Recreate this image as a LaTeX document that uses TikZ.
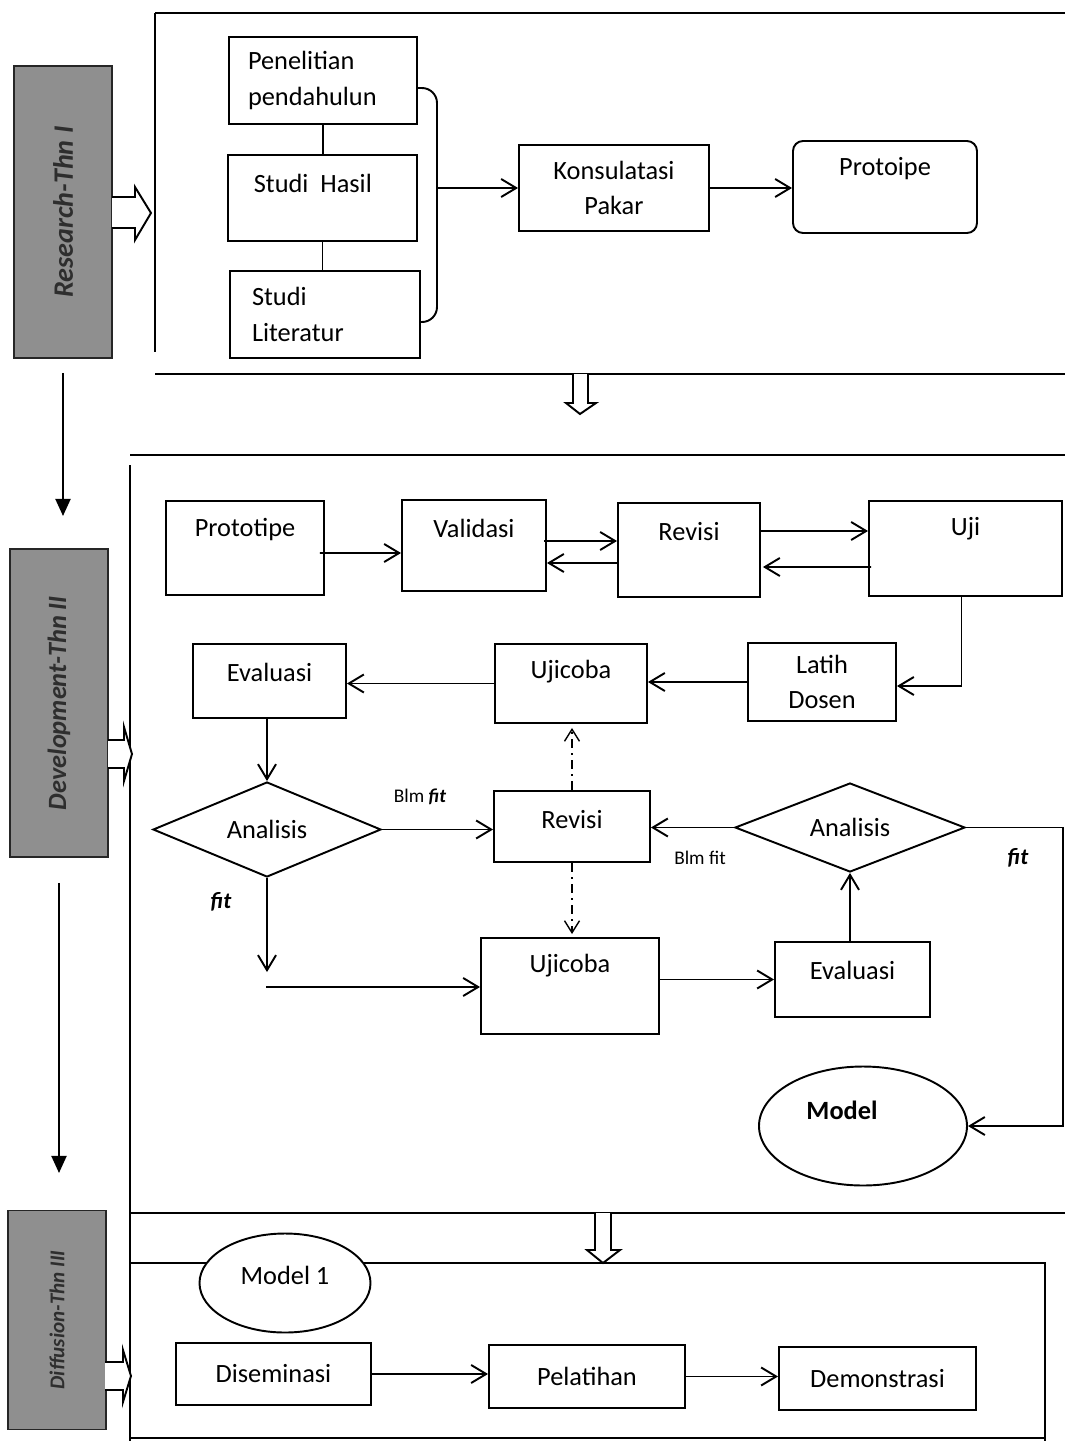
\documentclass[tikz,border=0pt]{standalone}
\usepackage{fontspec}
\setmainfont{Carlito}
\usetikzlibrary{arrows.meta,calc,shapes.geometric}
\definecolor{bandgray}{HTML}{8F8F8F}
\definecolor{bandtext}{HTML}{2E2E2E}
\newcommand\fs{\fontsize{15}{20}\selectfont}

\begin{document}
\begin{tikzpicture}[x=0.02cm,y=-0.02cm,line width=1.1pt,
  every node/.style={font=\fs},
  bx/.style 2 args={draw,rectangle,minimum width=#1*0.02cm,minimum height=#2*0.02cm,inner sep=0pt},
  ttl/.style={label={[anchor=center,yshift=-0.58cm]north:#1}},
  dia/.style 2 args={draw,diamond,aspect=2.4,minimum width=#1*0.02cm,minimum height=#2*0.02cm,inner sep=0pt},
  band/.style 2 args={draw=black!85,fill=bandgray,text=bandtext,rotate=90,minimum width=#1*0.02cm,minimum height=#2*0.02cm,inner sep=0pt},
  arr/.style={-{Straight Barb[length=3mm,width=3.6mm]}},
  darr/.style={-{Straight Barb[length=2.4mm,width=3mm]},line width=0.8pt,dash pattern=on 5pt off 3pt on 1pt off 3pt},
  larr/.style={-{Triangle[length=3.4mm,width=3mm]}},
  small/.style={font=\fontsize{11}{13}\selectfont},
  fitlbl/.style={font=\fontsize{13}{15}\selectfont\bfseries\itshape}]
  \useasboundingbox (0,0) rectangle (1065,1441);

  % panels
  \draw (155,13) -- (1065,13);
  \draw (155,13) -- (155,352);
  \draw (155,374) -- (1065,374);
  \draw (130,455) -- (1065,455);
  \draw (130,465) -- (130,1441);
  \draw (130,1213) -- (1065,1213);
  \draw (130,1263) -- (1045,1263) -- (1045,1441);
  \draw (130,1438) -- (1045,1438);

  % year bands
  \node[band={292}{98},font=\fontsize{16}{18}\selectfont\bfseries\itshape] (res) at (63,212) {Research-Thn I};
  \node[band={308}{98},font=\fontsize{15}{18}\selectfont\bfseries\itshape] (dev) at (59,703) {Development-Thn II};
  \node[band={219}{98},font=\fontsize{12}{14}\selectfont\bfseries\itshape] (dif) at (57,1320) {Diffusion-Thn III};
  \draw[larr] ($(res.west)+(0,14)$) -- ++(0,143);
  \draw[larr] ($(dev.west)+(0,25)$) -- ++(0,290);
  \draw[fill=white] (112,197) -- (135,197) -- (135,187) -- (151,213) -- (135,240) -- (135,228) -- (112,228);
  \draw[fill=white] (108,740) -- (124,740) -- (124,727) -- (132,754) -- (124,781) -- (124,768) -- (108,768);
  \draw[fill=white] (105,1362) -- (123,1362) -- (123,1350) -- (131,1376) -- (123,1402) -- (123,1390) -- (105,1390);
  \draw[fill=white] (573,374) -- (573,403) -- (566,403) -- (580,414) -- (596,403) -- (588,403) -- (588,374);
  \draw[fill=white] (595,1213) -- (595,1250) -- (587,1250) -- (603,1263) -- (620,1250) -- (611,1250) -- (611,1213);

  % research
  \node[bx={188}{87},text width=3cm,align=left] (pen) at (323,80.5) {Penelitian\\pendahulun};
  \node[bx={189}{86},label={[anchor=west,xshift=0.4cm,yshift=-0.58cm]north west:Studi\ \ Hasil}] (hasil) at (322.5,198) {};
  \node[bx={190}{87},text width=2.92cm,align=left] (lit) at (325,314.5) {Studi\\Literatur};
  \node[bx={190}{86},align=center] (kons) at (614,188) {Konsulatasi\\Pakar};
  \node[bx={184}{92},rounded corners=0.2cm,ttl=Protoipe] (prot1) at (885,187) {};
  \draw (pen.south) -- (pen.south |- hasil.north);
  \draw (hasil.south) -- (hasil.south |- lit.north);
  \draw[rounded corners=0.3cm] (pen.east |- 0,88) -| (437,322) -- (lit.east |- 0,322);
  \coordinate (brM) at (437,188);
  \draw[arr] (brM) -- (kons.west);
  \draw[arr] (kons.east) -- (kons.east -| prot1.west);

  % development
  \node[bx={158}{94},ttl=Prototipe] (proto) at (245,548) {};
  \node[bx={144}{91},ttl=Validasi] (val) at (474,545.5) {};
  \node[bx={142}{94},ttl=Revisi] (rev1) at (689,550) {};
  \node[bx={193}{95},ttl=Uji] (uji) at (965.5,548.5) {};
  \node[bx={148}{78},align=center] (latih) at (822,682) {Latih\\Dosen};
  \node[bx={152}{79},ttl=Ujicoba] (ujc1) at (571,683.5) {};
  \node[bx={153}{74},ttl=Evaluasi] (eva1) at (269.5,681) {};
  \node[dia={228}{95}] (anL) at (267,829.5) {Analisis};
  \node[bx={156}{71},ttl=Revisi] (rev2) at (572,826.5) {};
  \node[dia={230}{89}] (anR) at (850,827.5) {Analisis};
  \node[bx={178}{96},ttl=Ujicoba] (ujc2) at (570,986) {};
  \node[bx={155}{75},ttl=Evaluasi] (eva2) at (852.5,979.5) {};
  \node[draw,ellipse,minimum width=208*0.02cm,minimum height=119*0.02cm,inner sep=0pt,
    label={[font=\fs\bfseries,xshift=-0.42cm,yshift=0.32cm]center:Model}] (model) at (863,1126) {};
  \coordinate (fitA) at (267,972);
  \coordinate (fitB) at (266,987);
  \coordinate (fitC) at (1063,1126);

  \draw[arr] ($(proto.east)+(-5,5)$) -- ($(val.west)+(0,7.5)$);
  \draw[arr] ($(val.east)+(-3,-4.5)$) -- ($(rev1.west)+(0,-9)$);
  \draw[arr] ($(rev1.west)+(0,13)$) -- ($(val.east)+(0,17.5)$);
  \draw[arr] ($(rev1.east)+(0,-19)$) -- ($(uji.west)+(0,-17.5)$);
  \draw[arr] ($(uji.west)+(3,18.5)$) -- ($(rev1.east)+(2,17)$);
  \draw[arr] ($(uji.south)+(-4,0)$) |- ($(latih.east)+(0,4)$);
  \draw[arr] (latih.west) -- (latih.west -| ujc1.east);
  \draw[arr] (ujc1.west) -- (ujc1.west -| eva1.east);
  \draw[arr] (anL.north |- eva1.south) -- (anL.north);
  \draw[arr] (anL.east) -- (anL.east -| rev2.west);
  \draw[arr] (anL.south) -- (fitA);
  \draw[arr] (fitB) -- (fitB -| ujc2.west);
  \draw[arr] (ujc2.east |- eva2.west) -- (eva2.west);
  \draw[arr] (anR.south |- eva2.north) -- (anR.south);
  \draw[arr] (anR.west) -- (anR.west -| rev2.east);
  \draw[arr] (anR.east) -| (fitC) -- (model.east);
  \draw[darr,shorten >=0.08cm] (rev2.north) -- (rev2.north |- ujc1.south);
  \draw[darr,shorten >=0.06cm] (rev2.south) -- (rev2.south |- ujc2.north);
  \node[small] (blm1) at (420,797) {Blm \textbf{\textit{fit}}};
  \node[small] (blm2) at (700,858) {Blm fit};
  \node[fitlbl] (fit1) at (221,902) {fit};
  \node[fitlbl] (fit2) at (1018,858) {fit};

  % diffusion
  \node[draw,ellipse,fill=white,minimum width=171*0.02cm,minimum height=99*0.02cm,inner sep=0pt,
    label={[yshift=0.16cm]center:Model 1}] (mod1) at (285,1283) {};
  \node[bx={195}{62}] (dis) at (273.5,1374) {Diseminasi};
  \node[bx={196}{63}] (pel) at (587,1376.5) {Pelatihan};
  \node[bx={197}{63}] (dem) at (877.5,1378.5) {Demonstrasi};
  \draw[arr] (dis.east) -- (dis.east -| pel.west);
  \draw[arr] (pel.east) -- (pel.east -| dem.west);
\end{tikzpicture}
\end{document}
